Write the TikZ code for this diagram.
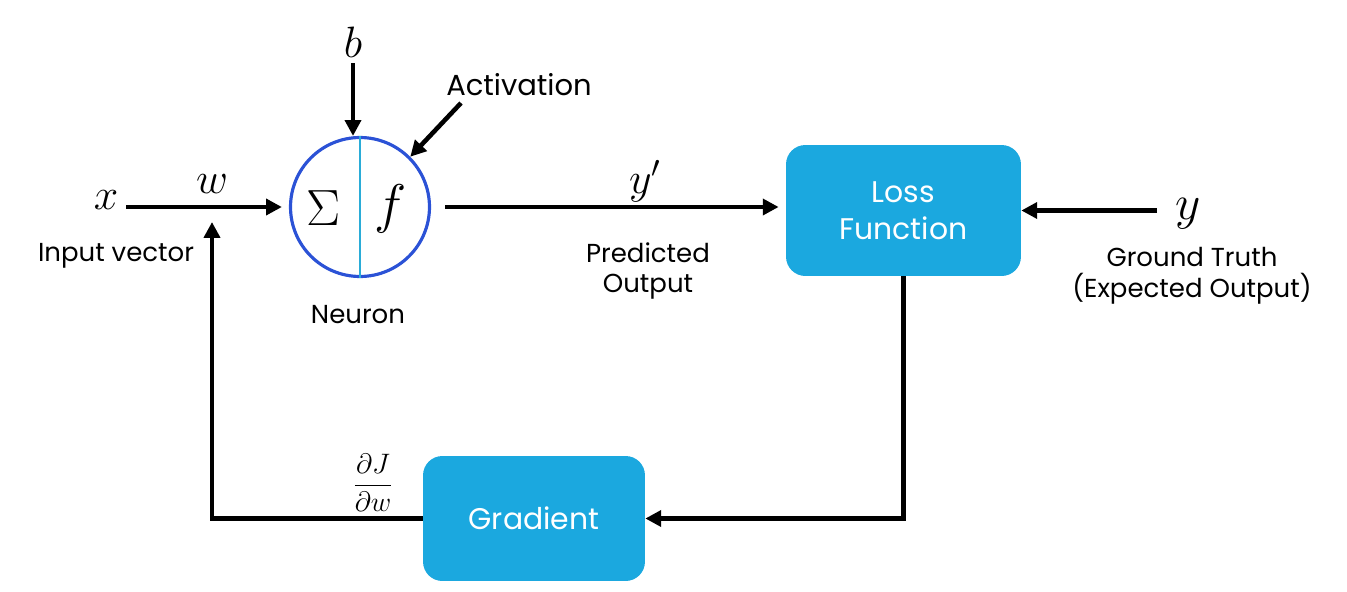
\documentclass[tikz,border=0pt]{standalone}
\usepackage{fix-cm}
\usepackage{fontspec}
\setmainfont{Poppins}
\usetikzlibrary{arrows.meta}
\definecolor{boxblue}{HTML}{1BA8DF}
\definecolor{ringblue}{HTML}{2B52D6}
\definecolor{divcyan}{HTML}{2AACD8}
\tikzset{
  arr/.style={line width=2.6pt,-{Triangle[length=9pt,width=9pt]}},
  lbl/.style={font=\fontsize{14.8}{17.5}\selectfont,align=center},
  sym/.style={font=\fontsize{25}{30}\selectfont},
  blockbox/.style={fill=boxblue,rounded corners=11pt,text=white,
    font=\fontsize{17}{21}\selectfont,align=center}
}
\begin{document}
\begin{tikzpicture}[x=0.02cm,y=-0.02cm]
  \useasboundingbox (0,0) rectangle (1347,592);
  % neuron
  \node[circle,draw=ringblue,line width=1.8pt,minimum size=2.78cm] (neuron) at (360,207) {};
  \draw[divcyan,line width=1pt] (neuron.north) -- (neuron.south);
  \node[font=\fontsize{29}{34}\selectfont] (sum) at (324,208) {$\Sigma$};
  \node[font=\fontsize{31}{36}\selectfont] (fn) at (391,209) {$f$};
  \node[lbl] (neuronlbl) at (358,315) {Neuron};
  % inputs
  \node[sym] (xin) at (106,200) {$x$};
  \node[sym] (w) at (212,184) {$w$};
  \node[sym] (b) at (353,42) {$b$};
  \node[lbl] (inputlbl) at (116,256) {Input vector};
  \node[lbl,font=\fontsize{16.5}{20}\selectfont] (actlbl) at (519,85) {Activation};
  \coordinate (actstart) at (461,103);
  \draw[arr] (xin.east |- neuron.west) -- (neuron.west) [shorten <=1pt,shorten >=4pt];
  \draw[arr] (b) -- (b |- neuron.north);
  \draw[arr] (actstart) -- (neuron.45);
  % blocks
  \node[blockbox,minimum width=4.7cm,minimum height=2.62cm] (loss) at (903.5,210.5) {Loss\\Function};
  \node[blockbox,minimum width=4.44cm,minimum height=2.5cm] (grad) at (534,518.5) {Gradient};
  % output side
  \node[sym] (ypred) at (645,181) {$y'$};
  \node[lbl] (predlbl) at (648,271) {Predicted\\Output};
  \node[sym,font=\fontsize{28}{32}\selectfont] (ytrue) at (1188,214) {$y$};
  \node[lbl] (truthlbl) at (1192,276) {Ground Truth\\(Expected Output)};
  \coordinate (ystart) at (1157,210.5);
  \draw[arr] (neuron.east) -- (neuron.east -| loss.west) [shorten <=8pt,shorten >=4pt];
  \draw[arr] (ystart) -- (loss.east);
  % feedback loop
  \coordinate (wtip) at (212,222);
  \draw[arr] (loss.south) |- (grad.east);
  \draw[arr] (grad.west) -| (wtip);
  \node[font=\fontsize{16}{19}\selectfont] (dJdw) at (373,483) {$\displaystyle\frac{\partial J}{\partial w}$};
\end{tikzpicture}
\end{document}
